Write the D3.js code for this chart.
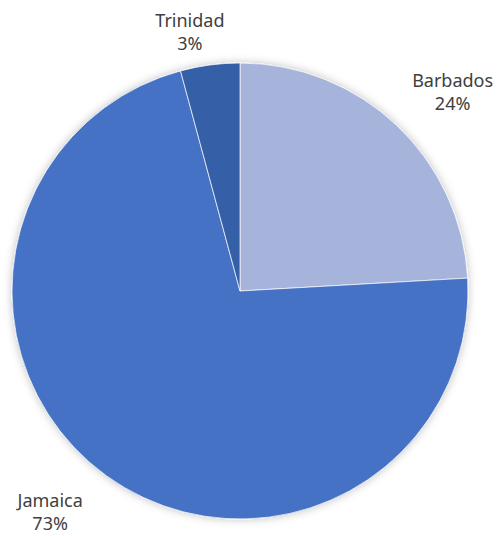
<!DOCTYPE html>
<html>
<head>
<meta charset="utf-8">
<script src="https://cdn.jsdelivr.net/npm/d3@7"></script>
<style>
  body { margin: 0; background: #fff; }
  text { font-family: 'Noto Sans', 'DejaVu Sans', sans-serif; fill: #404040; }
</style>
</head>
<body>
<script>
const islands = ['Barbados', 'Jamaica', 'Trinidad']
const shares = [24.1, 71.7, 4.2]
const pctLabels = ['24%', '73%', '3%']
const colors = ['#a6b4db', '#4472c4', '#345ea6']

// label placement: angle (deg, clockwise from top) and distance from centre
const labelAngle = [47.8, 219.9, 348.8]
const labelDist = [287, 296, 258]

const w = 502
const h = 536
const cx = 240
const cy = 291
const r = 228

const svg = d3.select('body').append('svg').attr('width', w).attr('height', h)

const defs = svg.append('defs')
const f = defs.append('filter').attr('id', 'shadow')
  .attr('x', '-20%').attr('y', '-20%').attr('width', '140%').attr('height', '140%')
f.append('feDropShadow').attr('dx', 0).attr('dy', 0).attr('stdDeviation', 4)
  .attr('flood-color', '#000').attr('flood-opacity', 0.25)

const pie = d3.pie().sort(null).value((d) => d)
const arc = d3.arc().innerRadius(0).outerRadius(r)

const g = svg.append('g').attr('transform', `translate(${cx},${cy})`)

g.append('g')
  .attr('filter', 'url(#shadow)')
  .selectAll('path')
  .data(pie(shares))
  .enter()
  .append('path')
  .attr('d', arc)
  .attr('fill', (d, i) => colors[i])
  .attr('stroke', '#fff')
  .attr('stroke-width', 0.7)

const labels = g.selectAll('.lbl')
  .data(islands)
  .enter()
  .append('text')
  .attr('class', 'lbl')
  .attr('text-anchor', 'middle')
  .attr('font-size', 18)
  .attr('transform', (d, i) => {
    const a = labelAngle[i] * Math.PI / 180
    return `translate(${labelDist[i] * Math.sin(a)},${-labelDist[i] * Math.cos(a)})`
  })

labels.append('tspan').attr('x', 0).attr('y', -11).text((d) => d)
labels.append('tspan').attr('x', 0).attr('y', 12).text((d, i) => pctLabels[i])
</script>
</body>
</html>
